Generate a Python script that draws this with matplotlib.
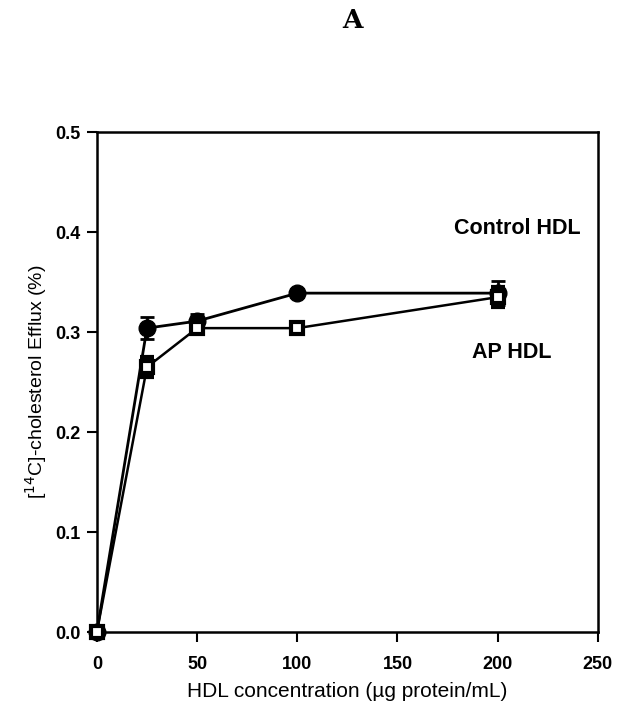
import matplotlib.pyplot as plt
import numpy as np

plt.rcParams['font.family'] = ['Liberation Sans', 'DejaVu Sans']

conc = [0, 25, 50, 100, 200]
control = [0.0, 0.304, 0.311, 0.339, 0.339]
control_err = [0.0, 0.011, 0.007, 0.004, 0.012]
ap = [0.0, 0.265, 0.304, 0.304, 0.335]
ap_err = [0.0, 0.010, 0.005, 0.003, 0.010]

fig = plt.figure(figsize=(6.17, 7.05), dpi=100)
ax = fig.add_axes([0.157, 0.1035, 0.812, 0.709])

# control HDL: filled circles
ax.errorbar(conc, control, yerr=control_err, color='black', lw=2,
            marker='o', ms=12, mfc='black', mec='black',
            capsize=5, capthick=2, elinewidth=2, zorder=3, clip_on=False)
# AP HDL: open squares
ax.errorbar(conc, ap, yerr=ap_err, color='black', lw=1.8,
            marker='s', ms=9, mfc='white', mec='black', mew=3,
            capsize=5, capthick=2, elinewidth=2, zorder=4, clip_on=False)

ax.set_xlim(0, 250)
ax.set_ylim(0, 0.5)
ax.set_xticks([0, 50, 100, 150, 200, 250])
ax.set_yticks([0.0, 0.1, 0.2, 0.3, 0.4, 0.5])
ax.set_yticklabels(['0.0', '0.1', '0.2', '0.3', '0.4', '0.5'])
ax.tick_params(direction='out', length=7, width=1.5, labelsize=13)
ax.tick_params(axis='x', pad=10)
ax.tick_params(axis='y', pad=5)
for lab in ax.get_xticklabels() + ax.get_yticklabels():
    lab.set_fontweight('bold')
for sp in ax.spines.values():
    sp.set_linewidth(1.8)

ax.set_xlabel('HDL concentration (\u00b5g protein/mL)', fontsize=15, labelpad=7)
ax.set_ylabel('[$^{14}$C]-cholesterol Efflux (%)', fontsize=14, labelpad=4)

ax.text(210, 0.404, 'Control HDL', fontsize=15.5, fontweight='bold', ha='center', va='center')
ax.text(207, 0.280, 'AP HDL', fontsize=15.5, fontweight='bold', ha='center', va='center')

fig.text(0.571, 0.971, 'A', fontsize=19, fontweight='bold', family='DejaVu Serif',
         ha='center', va='center')

fig.savefig('out.png', dpi=100)
